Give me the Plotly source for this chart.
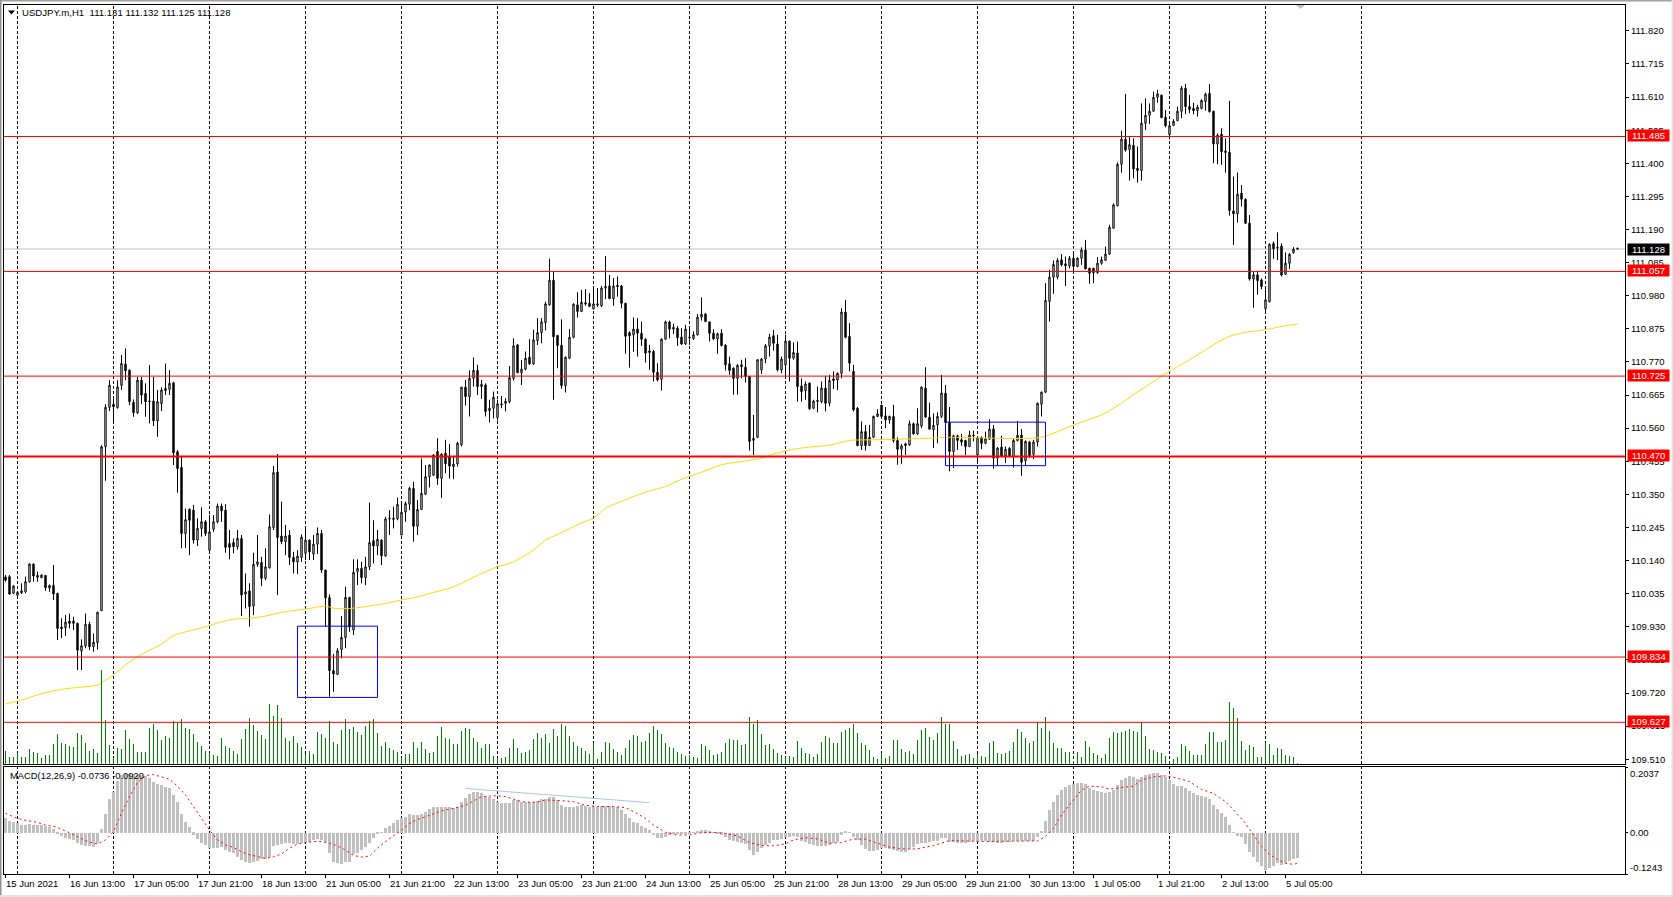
import plotly.graph_objects as go

W, H = 1673, 897
FONT = "Liberation Sans"

opens = [110.088,110.089,110.036,110.030,110.038,110.041,110.073,110.129,110.087,110.086,
110.093,110.053,110.061,110.036,109.929,109.927,109.948,109.948,109.941,109.854,
109.870,109.938,109.867,109.880,109.981,110.501,110.626,110.636,110.625,110.696,
110.763,110.744,110.642,110.609,110.712,110.670,110.644,110.646,110.583,110.638,
110.679,110.683,110.704,110.485,110.435,110.226,110.303,110.300,110.205,110.242,
110.263,110.173,110.239,110.263,110.313,110.300,110.194,110.197,110.184,110.210,
110.034,110.044,109.996,110.128,110.134,110.084,110.117,110.245,110.421,110.218,
110.200,110.221,110.150,110.136,110.150,110.163,110.205,110.161,110.192,110.226,
110.110,110.023,109.791,109.779,109.858,109.896,110.023,109.920,110.105,110.115,
110.086,110.120,110.203,110.187,110.205,110.155,110.272,110.274,110.273,110.221,
110.294,110.319,110.369,110.249,110.302,110.351,110.406,110.411,110.486,110.401,
110.480,110.470,110.438,110.447,110.507,110.690,110.660,110.718,110.743,110.692,
110.697,110.616,110.623,110.594,110.634,110.639,110.644,110.718,110.824,110.736,
110.747,110.785,110.764,110.838,110.863,110.895,110.951,111.029,110.854,110.823,
110.695,110.782,110.848,110.951,110.930,110.958,110.956,110.938,110.950,110.948,
111.004,111.011,110.971,111.013,111.011,110.956,110.863,110.856,110.874,110.861,
110.842,110.805,110.803,110.737,110.715,110.842,110.897,110.874,110.877,110.849,
110.827,110.849,110.844,110.856,110.912,110.922,110.897,110.861,110.843,110.861,
110.823,110.764,110.750,110.718,110.761,110.753,110.724,110.521,110.531,110.745,
110.779,110.821,110.853,110.827,110.745,110.761,110.836,110.782,110.798,110.694,
110.679,110.703,110.623,110.648,110.644,110.687,110.639,110.716,110.713,110.734,
110.928,110.851,110.740,110.623,110.504,110.549,110.505,110.531,110.597,110.633,
110.599,110.586,110.597,110.521,110.493,110.510,110.507,110.574,110.542,110.567,
110.687,110.595,110.555,110.571,110.597,110.671,110.578,110.486,110.536,110.523,
110.521,110.502,110.538,110.475,110.530,110.512,110.525,110.557,110.465,110.500,
110.472,110.496,110.470,110.521,110.538,110.457,110.516,110.477,110.516,110.636,
110.674,110.962,111.039,111.039,111.094,111.081,111.075,111.099,111.073,111.099,
111.125,111.067,111.067,111.053,111.083,111.092,111.112,111.194,111.266,111.397,
111.476,111.444,111.457,111.384,111.377,111.527,111.552,111.565,111.609,111.616,
111.546,111.491,111.520,111.535,111.565,111.638,111.580,111.574,111.567,111.574,
111.596,111.622,111.565,111.461,111.492,111.439,111.435,111.249,111.240,111.305,
111.286,111.210,111.033,111.046,111.030,110.939,110.961,111.146,111.134,111.138,
111.048,111.083,111.117,111.131]

highs = [110.094,110.094,110.062,110.040,110.068,110.089,110.131,110.131,110.105,110.097,
110.094,110.064,110.126,110.038,109.957,109.967,109.972,109.962,109.943,109.890,
109.972,109.946,109.909,109.978,110.506,110.636,110.712,110.655,110.712,110.792,
110.813,110.746,110.651,110.723,110.723,110.702,110.760,110.723,110.681,110.689,
110.765,110.744,110.707,110.490,110.470,110.305,110.305,110.316,110.274,110.309,
110.268,110.284,110.284,110.321,110.321,110.319,110.237,110.210,110.237,110.221,
110.099,110.068,110.165,110.221,110.152,110.179,110.286,110.440,110.478,110.327,
110.253,110.237,110.168,110.173,110.223,110.242,110.207,110.221,110.245,110.237,
110.110,110.033,109.844,109.862,109.964,110.057,110.025,110.144,110.144,110.136,
110.152,110.324,110.268,110.237,110.207,110.279,110.300,110.311,110.340,110.321,
110.327,110.374,110.390,110.332,110.464,110.443,110.445,110.478,110.528,110.480,
110.523,110.510,110.470,110.517,110.690,110.713,110.743,110.784,110.761,110.713,
110.702,110.650,110.676,110.650,110.662,110.655,110.757,110.845,110.827,110.776,
110.803,110.842,110.872,110.909,110.909,110.961,111.097,111.057,110.856,110.905,
110.787,110.874,110.956,110.991,110.999,111.001,110.988,111.007,111.004,111.011,
111.106,111.046,111.036,111.041,111.014,110.958,110.867,110.911,110.909,110.898,
110.845,110.824,110.808,110.766,110.845,110.901,110.901,110.891,110.884,110.877,
110.888,110.877,110.867,110.922,110.975,110.925,110.898,110.874,110.863,110.874,
110.826,110.787,110.753,110.763,110.777,110.782,110.724,110.602,110.779,110.782,
110.827,110.859,110.872,110.856,110.787,110.856,110.838,110.832,110.835,110.718,
110.708,110.705,110.650,110.692,110.708,110.726,110.729,110.740,110.736,110.940,
110.967,110.893,110.761,110.627,110.581,110.570,110.570,110.600,110.620,110.634,
110.627,110.600,110.634,110.531,110.510,110.514,110.584,110.578,110.623,110.692,
110.753,110.641,110.607,110.610,110.729,110.697,110.627,110.539,110.539,110.542,
110.523,110.552,110.552,110.531,110.534,110.549,110.588,110.570,110.500,110.536,
110.502,110.500,110.528,110.583,110.557,110.521,110.518,110.523,110.641,110.676,
111.020,111.062,111.092,111.099,111.112,111.104,111.106,111.115,111.102,111.133,
111.157,111.069,111.069,111.102,111.104,111.136,111.205,111.273,111.403,111.503,
111.620,111.485,111.479,111.453,111.590,111.606,111.590,111.627,111.633,111.618,
111.569,111.527,111.540,111.580,111.645,111.652,111.617,111.592,111.585,111.603,
111.624,111.652,111.567,111.495,111.511,111.479,111.598,111.358,111.371,111.331,
111.289,111.236,111.056,111.059,111.035,111.000,111.146,111.152,111.181,111.146,
111.117,111.115,111.134,111.132]

lows = [110.073,110.031,110.034,110.025,110.034,110.036,110.070,110.073,110.073,110.084,
110.044,110.041,110.015,109.888,109.894,109.901,109.925,109.920,109.793,109.793,
109.862,109.856,109.851,109.858,109.981,110.393,110.614,110.583,110.622,110.681,
110.712,110.633,110.596,110.605,110.636,110.596,110.575,110.567,110.533,110.614,
110.665,110.665,110.443,110.355,110.179,110.180,110.157,110.194,110.186,110.216,
110.218,110.163,110.231,110.258,110.263,110.165,110.144,110.163,110.175,109.964,
109.988,109.930,109.967,110.120,110.059,110.078,110.115,110.237,110.031,110.192,
110.157,110.126,110.099,110.097,110.136,110.142,110.142,110.142,110.161,110.101,
109.930,109.708,109.724,109.777,109.830,109.862,109.914,109.904,110.062,110.068,
110.062,110.110,110.131,110.157,110.126,110.152,110.221,110.242,110.268,110.221,
110.263,110.300,110.200,110.221,110.300,110.348,110.372,110.408,110.380,110.339,
110.417,110.400,110.398,110.438,110.502,110.632,110.597,110.692,110.665,110.653,
110.597,110.578,110.591,110.584,110.623,110.613,110.639,110.711,110.734,110.697,
110.743,110.761,110.761,110.824,110.829,110.870,110.948,110.650,110.750,110.685,
110.673,110.779,110.845,110.911,110.930,110.948,110.944,110.937,110.944,110.944,
110.969,110.969,110.948,110.977,110.940,110.796,110.752,110.803,110.787,110.821,
110.768,110.745,110.708,110.708,110.679,110.840,110.845,110.859,110.821,110.824,
110.824,110.824,110.840,110.854,110.901,110.896,110.835,110.840,110.796,110.819,
110.743,110.729,110.666,110.666,110.718,110.705,110.489,110.475,110.528,110.732,
110.766,110.787,110.806,110.740,110.734,110.724,110.708,110.777,110.644,110.644,
110.650,110.618,110.620,110.610,110.639,110.613,110.629,110.684,110.681,110.718,
110.845,110.740,110.613,110.502,110.491,110.489,110.504,110.528,110.595,110.595,
110.560,110.574,110.514,110.444,110.447,110.475,110.504,110.539,110.539,110.560,
110.592,110.555,110.497,110.512,110.592,110.576,110.423,110.433,110.491,110.504,
110.475,110.500,110.518,110.449,110.493,110.509,110.523,110.431,110.440,110.470,
110.449,110.470,110.435,110.518,110.409,110.442,110.465,110.462,110.502,110.597,
110.671,110.898,110.986,111.032,111.073,111.011,111.067,111.057,111.070,111.078,
111.064,111.018,111.020,111.049,111.078,111.092,111.110,111.193,111.263,111.370,
111.437,111.345,111.352,111.339,111.345,111.506,111.525,111.564,111.592,111.543,
111.514,111.476,111.518,111.535,111.543,111.556,111.559,111.555,111.548,111.571,
111.567,111.561,111.400,111.397,111.395,111.370,111.234,111.141,111.212,111.263,
111.208,111.028,110.942,110.983,111.000,110.924,110.959,111.097,111.093,111.041,
111.046,111.065,111.113,111.125]

closes = [110.078,110.034,110.059,110.039,110.044,110.073,110.129,110.091,110.093,110.094,
110.054,110.061,110.034,109.925,109.924,109.945,109.941,109.941,109.856,109.870,
109.938,109.867,109.881,109.976,110.501,110.626,110.696,110.628,110.691,110.765,
110.742,110.644,110.609,110.712,110.665,110.644,110.646,110.583,110.644,110.681,
110.686,110.702,110.482,110.432,110.226,110.270,110.268,110.205,110.242,110.263,
110.226,110.231,110.263,110.313,110.298,110.182,110.182,110.184,110.210,110.031,
110.041,109.994,110.128,110.136,110.084,110.120,110.247,110.419,110.213,110.200,
110.218,110.150,110.136,110.154,110.214,110.205,110.168,110.192,110.226,110.110,
110.022,109.791,109.780,109.854,109.896,110.023,109.930,110.103,110.115,110.086,
110.120,110.197,110.186,110.207,110.155,110.272,110.274,110.271,110.318,110.293,
110.321,110.369,110.249,110.302,110.353,110.406,110.443,110.475,110.401,110.478,
110.447,110.440,110.446,110.512,110.690,110.660,110.718,110.743,110.692,110.699,
110.613,110.623,110.658,110.637,110.637,110.645,110.720,110.821,110.736,110.747,
110.782,110.764,110.840,110.863,110.897,110.954,111.029,110.850,110.822,110.695,
110.785,110.848,110.953,110.930,110.959,110.954,110.946,110.954,110.954,111.004,
111.009,110.971,111.011,111.009,110.956,110.851,110.853,110.874,110.861,110.842,
110.798,110.800,110.737,110.713,110.842,110.897,110.874,110.880,110.847,110.827,
110.874,110.847,110.856,110.912,110.921,110.898,110.861,110.843,110.859,110.822,
110.761,110.743,110.718,110.759,110.755,110.724,110.518,110.528,110.777,110.779,
110.821,110.849,110.829,110.745,110.779,110.836,110.782,110.800,110.692,110.676,
110.700,110.621,110.646,110.645,110.687,110.639,110.711,110.711,110.734,110.928,
110.848,110.766,110.618,110.505,110.549,110.505,110.531,110.597,110.605,110.597,
110.586,110.597,110.521,110.493,110.504,110.505,110.574,110.542,110.574,110.690,
110.595,110.557,110.569,110.597,110.671,110.578,110.486,110.536,110.521,110.516,
110.502,110.538,110.536,110.530,110.512,110.526,110.557,110.465,110.497,110.470,
110.493,110.472,110.521,110.537,110.452,110.518,110.473,110.516,110.639,110.674,
110.965,111.039,111.079,111.092,111.078,111.075,111.099,111.073,111.099,111.125,
111.065,111.051,111.053,111.083,111.094,111.112,111.197,111.268,111.397,111.476,
111.442,111.459,111.382,111.377,111.527,111.552,111.565,111.609,111.620,111.545,
111.519,111.519,111.533,111.565,111.638,111.580,111.571,111.567,111.578,111.599,
111.619,111.564,111.461,111.489,111.437,111.434,111.250,111.240,111.302,111.286,
111.210,111.033,111.046,111.028,111.009,110.967,111.143,111.129,111.132,111.046,
111.083,111.111,111.127,111.128]

volumes = [40,22,22,33,22,22,45,37,35,20,
28,28,62,92,63,60,55,52,93,88,
63,40,47,35,283,132,58,20,50,45,
103,75,60,38,37,37,110,120,102,72,
85,78,130,125,135,108,105,92,68,55,
40,35,28,25,80,55,50,40,32,75,
105,140,118,100,88,75,182,145,178,140,
80,70,85,65,53,30,40,30,98,92,
80,130,68,60,103,136,105,112,98,87,
115,130,136,95,55,68,50,42,38,20,
32,30,68,50,68,45,35,38,85,112,
78,75,62,60,100,108,105,80,68,50,
60,62,25,18,18,22,50,75,50,35,
38,42,75,95,80,90,65,107,85,122,
115,85,68,55,48,40,32,65,15,37,
67,64,45,37,28,48,73,88,85,68,
70,93,115,103,91,65,53,49,36,30,
25,28,22,18,60,54,43,28,30,37,
63,77,72,72,58,61,142,122,133,90,
58,60,47,35,27,22,25,22,70,48,
35,32,22,30,66,85,79,64,63,97,
103,109,122,93,64,58,42,22,15,34,
18,25,73,73,45,36,40,30,73,103,
108,82,73,93,142,122,122,70,45,25,
28,30,20,32,25,23,65,70,35,32,
35,40,67,105,97,80,65,70,127,110,
142,100,64,50,48,37,37,10,37,22,
70,52,33,28,20,30,80,97,93,98,
100,106,100,97,127,85,47,43,38,35,
25,8,15,22,62,56,40,28,28,27,
62,97,97,67,68,73,187,170,140,70,
43,58,52,23,23,63,60,28,48,45,
28,25,22,2]

macd_hist_milli = [44,37,32,29,24,25,27,25,24,24,
22,19,13,-1,-8,-14,-18,-21,-31,-37,
-38,-39,-43,-29,12,58,102,125,158,176,
179,179,179,175,176,173,166,156,148,144,
140,135,115,95,57,33,17,-6,-19,-29,
-36,-44,-46,-44,-41,-52,-57,-60,-72,-82,
-87,-90,-87,-84,-78,-80,-74,-39,-36,-33,
-31,-31,-33,-33,-31,-29,-26,-21,-19,-21,
-26,-62,-87,-92,-94,-89,-89,-64,-62,-52,
-43,-29,-16,-3,2,14,22,29,39,46,
49,57,54,55,58,65,72,78,78,80,
80,80,77,80,95,105,117,124,124,120,
112,108,104,95,92,90,92,100,100,95,
95,95,95,98,102,104,110,110,100,85,
80,78,80,82,84,82,80,80,80,82,
82,82,80,78,70,58,45,34,29,21,
14,9,-7,-16,-16,-11,-6,-3,-1,-3,
-4,-3,1,4,9,9,7,1,-1,-5,
-11,-21,-24,-27,-29,-33,-52,-67,-58,-46,
-36,-29,-21,-21,-19,-13,-11,-9,-13,-23,
-26,-34,-37,-38,-38,-39,-37,-31,-26,-6,
6,2,-11,-21,-35,-48,-54,-54,-52,-46,
-46,-48,-52,-54,-57,-57,-48,-41,-34,-31,
-29,-28,-23,-23,-14,-14,-26,-26,-29,-29,
-29,-26,-23,-26,-24,-24,-27,-27,-29,-29,
-28,-27,-25,-25,-25,-25,-25,-23,-11,6,
37,70,95,115,130,140,145,150,153,153,
148,135,130,128,125,122,123,130,145,161,
168,173,169,164,169,176,178,181,181,176,
169,161,148,142,142,135,128,122,115,112,
110,102,85,72,60,47,24,2,-8,-13,
-33,-57,-72,-89,-99,-112,-105,-100,-92,-97,
-92,-85,-80,-75]

signal_bars = [0,2,4,6,8,10,12,14,16,18,20,22,23,25,27,29,31,33,35,37,39,41,43,45,47,49,51,53,55,57,59,61,63,65,67,69,71,73,75,77,79,81,83,85,87,89,91,93,95,97,99,101,103,105,107,109,111,113,115,117,119,121,123,125,127,129,131,133,135,137,139,142,145,148,152,155,157,160,162,165,168,171,174,177,180,183,186,189,192,195,197,200,203,206,209,212,215,218,221,225,228,232,234,236,240,244,249,255,258,260,262,264,267,269,271,274,276,280,282,284,287,290,292,296,299,302,305,307,310,312,314,316,318,320,322,323]
signal_milli = [60,49,41,36,32,24,20,12,1,-11,-23,-31,-33,-21,4,60,110,153,174,177,171,163,142,115,80,44,9,-21,-36,-44,-57,-66,-72,-77,-72,-64,-46,-34,-29,-26,-26,-31,-39,-52,-68,-73,-70,-46,-26,-9,9,29,41,49,58,67,72,78,84,97,110,112,113,110,103,95,93,94,100,100,98,95,84,80,80,77,65,44,24,2,-6,-6,1,2,-1,-9,-29,-38,-39,-33,-21,-14,-18,-31,-29,-18,-19,-31,-43,-49,-48,-38,-31,-23,-24,-26,-25,-24,-24,-11,14,55,100,130,142,140,133,138,142,161,170,173,169,156,132,120,95,70,29,-6,-41,-65,-80,-92,-95,-92]

ma_bars = [0,4,8,12,16,20,23,25,27,30,33,36,39,42,45,48,51,54,57,61,65,69,73,76,80,82,86,90,95,99,103,107,111,114,119,123,127,132,135,138,144,147,150,155,160,165,169,174,179,184,189,192,196,201,206,211,216,223,231,236,244,253,259,263,267,274,277,282,287,291,296,300,303,306,310,315,318,323]
ma_values = [109.685,109.698,109.714,109.727,109.735,109.740,109.745,109.761,109.777,109.809,109.835,109.856,109.875,109.902,109.914,109.923,109.934,109.946,109.954,109.957,109.964,109.976,109.983,109.988,109.996,109.989,109.988,109.994,110.004,110.015,110.025,110.039,110.052,110.068,110.099,110.120,110.136,110.173,110.205,110.223,110.259,110.275,110.306,110.333,110.357,110.375,110.398,110.420,110.444,110.454,110.465,110.478,110.491,110.500,110.506,110.521,110.523,110.525,110.528,110.531,110.529,110.527,110.531,110.549,110.570,110.602,110.623,110.666,110.708,110.740,110.777,110.808,110.832,110.851,110.864,110.872,110.880,110.890]

price_ticks = [111.820,111.715,111.610,111.505,111.400,111.295,111.190,111.085,110.980,110.875,110.770,110.665,110.560,110.455,110.350,110.245,110.140,110.035,109.930,109.825,109.720,109.615,109.510]
level_prices = [111.485,111.057,110.725,110.470,109.834,109.627]
level_widths = [1,1,1,2,1,1]
last_price = 111.128
macd_min, macd_top = -0.1243, 0.2000
macd_tick_text = ["0.2037","0.00","-0.1243"]
time_bars = [0,16,32,48,64,80,96,112,128,144,160,176,192,208,224,240,256,272,288,304,320]
time_labels = ["15 Jun 2021","16 Jun 13:00","17 Jun 05:00","17 Jun 21:00","18 Jun 13:00","21 Jun 05:00","21 Jun 21:00","22 Jun 13:00","23 Jun 05:00","23 Jun 21:00","24 Jun 13:00","25 Jun 05:00","25 Jun 21:00","28 Jun 13:00","29 Jun 05:00","29 Jun 21:00","30 Jun 13:00","1 Jul 05:00","1 Jul 21:00","2 Jul 13:00","5 Jul 05:00"]
grid_bars = [3,27,51,75,99,123,147,171,195,219,243,267,291,315,339]
boxes = [(73,93,109.932,109.706),(235,260,110.579,110.441)]
trend_bars = [115,161]
trend_values = [0.135,0.092]

bars = list(range(len(closes)))
macd_hist = [v/1000 for v in macd_hist_milli]
signal = [v/1000 for v in signal_milli]

def yd(py):
    return 1 - py/H
def xd(px):
    return px/W

fig = go.Figure()
fig.add_trace(go.Bar(x=bars, y=volumes, width=0.25, marker=dict(color="#008000", line=dict(width=0)), xaxis="x", yaxis="y3", hoverinfo="skip"))
fig.add_trace(go.Scatter(x=ma_bars, y=ma_values, mode="lines", line=dict(color="#ffd700", width=1, shape="spline", smoothing=0.7), xaxis="x", yaxis="y"))
fig.add_trace(go.Candlestick(x=bars, open=opens, high=highs, low=lows, close=closes, xaxis="x", yaxis="y", whiskerwidth=0,
    increasing=dict(line=dict(color="#000000", width=1), fillcolor="#ffffff"),
    decreasing=dict(line=dict(color="#000000", width=1), fillcolor="#000000")))
fig.add_trace(go.Bar(x=bars, y=macd_hist, width=0.75, marker=dict(color="#c0c0c0", line=dict(width=0)), xaxis="x2", yaxis="y2"))
fig.add_trace(go.Scatter(x=signal_bars, y=signal, mode="lines", line=dict(color="#ff0000", width=1, dash="2px,3px"), xaxis="x2", yaxis="y2"))
fig.add_trace(go.Scatter(x=trend_bars, y=trend_values, mode="lines", line=dict(color="#b0c4de", width=1), xaxis="x2", yaxis="y2"))

shapes = []
for b in grid_bars:
    shapes.append(dict(type="line", xref="x", x0=b, x1=b, yref="paper", y0=yd(874), y1=yd(4.5), layer="below",
                       line=dict(color="#000000", width=1, dash="3px,2px")))
shapes.append(dict(type="line", xref="x domain", x0=0, x1=1, yref="y", y0=last_price, y1=last_price, line=dict(color="#c0c0c0", width=1), layer="below"))
for p, w in zip(level_prices, level_widths):
    shapes.append(dict(type="line", xref="x domain", x0=0, x1=1, yref="y", y0=p, y1=p, line=dict(color="#ff0000", width=w)))
for x0, x1, y0, y1 in boxes:
    shapes.append(dict(type="rect", xref="x", yref="y", x0=x0, x1=x1, y0=y0, y1=y1, line=dict(color="#0000ff", width=1)))
# window frame of the terminal
for x0, y0, x1, y1, col in [(0,0,W,1.5,"#a0a0a0"),(0,0,1.5,H,"#909090"),(1671.5,0,W,H,"#e4e4e4"),(0,895,W,H,"#e4e4e4")]:
    shapes.append(dict(type="rect", xref="paper", yref="paper", x0=xd(x0), x1=xd(x1), y0=yd(y0), y1=yd(y1), line=dict(width=0), fillcolor=col, layer="below"))
# dropdown triangle and chart-shift marker
shapes.append(dict(type="path", xref="paper", yref="paper",
    path=f"M {xd(8)} {yd(10.5)} L {xd(15)} {yd(10.5)} L {xd(11.5)} {yd(14.5)} Z", fillcolor="#000000", line=dict(width=0)))
shapes.append(dict(type="path", xref="paper", yref="paper",
    path=f"M {xd(1296)} {yd(5)} L {xd(1305)} {yd(5)} L {xd(1300.5)} {yd(9)} Z", fillcolor="#c0c0c0", line=dict(width=0)))

ann = []
def add_text(text, x, y, **kw):
    d = dict(text=text, x=x, y=y, showarrow=False, font=dict(family=FONT, size=kw.pop("size", 9.5), color=kw.pop("color", "#000000")), borderpad=0)
    d.update(kw)
    ann.append(d)

add_text("USDJPY.m,H1  111.131 111.132 111.125 111.128", xd(20.5), yd(12.7), xref="paper", yref="paper", xanchor="left", yanchor="middle", size=9.6)
add_text("MACD(12,26,9) -0.0736 -0.0920", xd(9), yd(775), xref="paper", yref="paper", xanchor="left", yanchor="middle", size=9.4)
for b, t in zip(time_bars, time_labels):
    add_text(t, b - 0.1, yd(883.5), xref="x2", yref="paper", xanchor="left", yanchor="middle", size=9.5)
for y_pos, t, anc in zip([macd_top, 0.0, macd_min], macd_tick_text, ["top","middle","bottom"]):
    add_text(t, xd(1629), y_pos, xref="paper", yref="y2", xanchor="left", yanchor=anc, size=9.5)
for p in level_prices:
    add_text(f"{p:.3f}", xd(1627), p, xref="paper", yref="y", xanchor="left", yanchor="middle", align="center", width=41, height=11, bgcolor="#ff0000", color="#ffffff", yshift=1)
add_text(f"{last_price:.3f}", xd(1627), last_price, xref="paper", yref="y", xanchor="left", yanchor="middle", align="center", width=41, height=11, bgcolor="#000000", color="#ffffff")

axis_x = dict(range=[-0.375, 404.875], domain=[xd(4), xd(1625)], showgrid=False, zeroline=False, showline=True,
              linecolor="#000000", linewidth=1, mirror=True, rangeslider=dict(visible=False))
fig.update_layout(
    width=W, height=H, autosize=False, margin=dict(l=0, r=0, t=0, b=0), paper_bgcolor="#ffffff", plot_bgcolor="#ffffff",
    showlegend=False, shapes=shapes, annotations=ann, bargap=0, boxgap=0.5, hovermode=False,
    xaxis=dict(axis_x, anchor="y", showticklabels=False, ticks=""),
    xaxis2=dict(axis_x, anchor="y2", showticklabels=False, ticks="outside", ticklen=3, tickcolor="#000000", tickvals=time_bars),
    yaxis=dict(domain=[yd(763.7), yd(4.5)], range=[109.4958, 111.9036], side="right", anchor="x", showgrid=False, zeroline=False,
               showline=True, linecolor="#000000", linewidth=1, mirror=True, ticks="outside", ticklen=3, tickcolor="#000000",
               tickvals=price_ticks, ticktext=[f"{p:.3f}" for p in price_ticks], tickfont=dict(family=FONT, size=9.5, color="#000000")),
    yaxis2=dict(domain=[yd(874), yd(767)], range=[macd_min, macd_top], side="right", anchor="x2", showgrid=False, zeroline=False,
                showline=True, linecolor="#000000", linewidth=1, mirror=True, ticks="outside", ticklen=2, tickcolor="#000000",
                tickvals=[macd_top, 0.0, macd_min], showticklabels=False),
    yaxis3=dict(domain=[yd(763.7), yd(4.5)], range=[0, 2278], overlaying="y", visible=False, anchor="x"),
)
fig.write_html("out.html", config=dict(displayModeBar=False), post_script="document.body.style.margin='0';document.documentElement.style.overflow='hidden';")
